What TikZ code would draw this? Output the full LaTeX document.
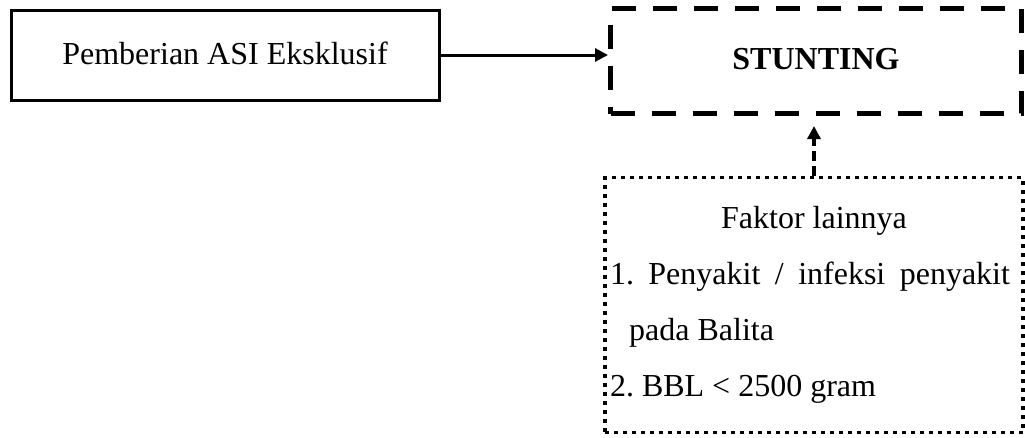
\documentclass[tikz,border=0pt]{standalone}
\usepackage{fontspec}
\setmainfont{Liberation Serif}
\usetikzlibrary{arrows.meta}
\begin{document}
\begin{tikzpicture}[x=1pt, y=1pt,
    solidbox/.style={draw=lineColour, line width=3pt, minimum width=428pt, minimum height=90pt, inner sep=0pt},
    dashbox/.style={draw=lineColour, line width=5pt, dash pattern=on 24pt off 17pt, minimum width=411pt, minimum height=105pt, inner sep=0pt},
    dotbox/.style={draw=lineColour, line width=3.5pt, dash pattern=on 4pt off 5pt, minimum width=418pt, minimum height=255pt, text width=408pt, inner sep=0pt},
    link/.style={draw=lineColour, line width=3pt, -{Triangle[length=13pt, width=13pt]}}
]
    \def\bigText{\fontsize{32}{56}\selectfont\frenchspacing\spaceskip=0pt\xspaceskip=0pt\relax}
    \definecolor{lineColour}{HTML}{000000}

    % Page size
    \useasboundingbox (0,0) rectangle (1025,-437);

    % Cause and outcome
    \node[solidbox] (asi) at (225,-55) {\bigText\raisebox{3pt}{Pemberian ASI Eksklusif}};
    \node[dashbox] (stunting) at (816,-61) {\bigText\bfseries\raisebox{4pt}{STUNTING}};

    % Other factors
    \node[dotbox] (lain) at (814,-305) {\bigText\parindent=0pt\relax
        {\centering Faktor lainnya\par}
        \makebox[400pt][s]{1. Penyakit / infeksi penyakit}\par
        \hspace*{0.6em}pada Balita\par
        2. BBL < 2500 gram\par};

    % Arrows
    \draw[link] (asi.east) -- (asi.east -| stunting.west);
    \draw[link, line width=4pt, dash pattern=on 10pt off 5pt, shorten >=10pt]
        (lain.north) -- (lain.north |- stunting.south);

\end{tikzpicture}
\end{document}
